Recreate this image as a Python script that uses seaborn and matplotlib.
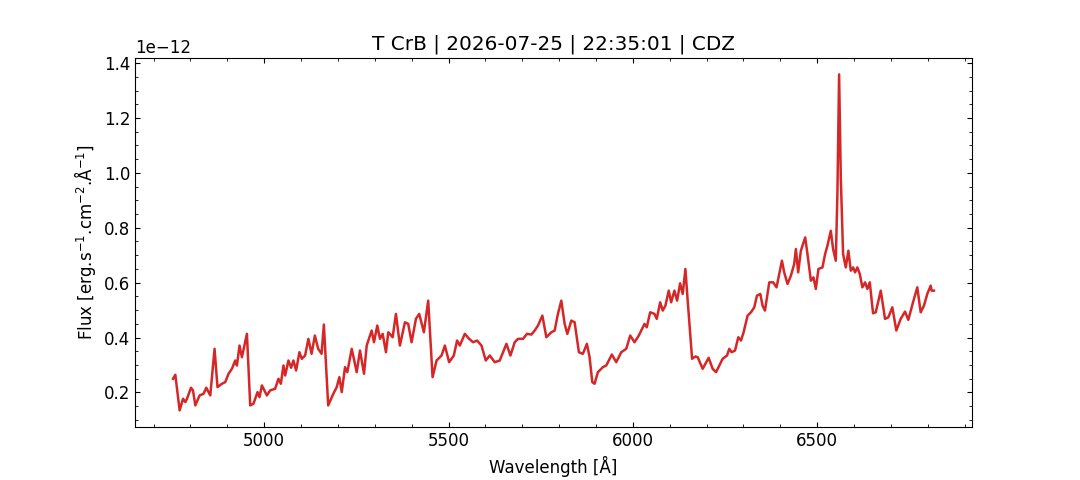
import matplotlib
matplotlib.use("Agg")
import matplotlib.pyplot as plt
import seaborn as sns
import numpy as np
from matplotlib.ticker import AutoMinorLocator

wavelength = [
    4752.8, 4759.0, 4770.7, 4779.9, 4786.1, 4790.7, 4801.5, 4806.9, 4813.2, 4824.8,
    4835.6, 4842.9, 4853.8, 4865.4, 4873.4, 4885.4, 4894.4, 4903.3, 4912.5, 4921.5,
    4926.1, 4933.1, 4939.6, 4953.2, 4962.1, 4971.0, 4981.9, 4987.3, 4993.8, 5007.3,
    5016.2, 5029.8, 5038.7, 5045.2, 5052.3, 5056.9, 5065.8, 5073.1, 5079.3, 5086.6,
    5095.6, 5102.1, 5111.0, 5119.9, 5128.6, 5137.5, 5146.5, 5155.7, 5161.9, 5173.6,
    5187.6, 5196.8, 5203.9, 5210.4, 5219.3, 5225.5, 5237.5, 5251.0, 5259.9, 5270.8,
    5278.1, 5291.6, 5297.8, 5306.8, 5314.1, 5321.4, 5330.3, 5336.6, 5348.5, 5357.4,
    5368.2, 5381.8, 5390.7, 5399.9, 5411.6, 5420.5, 5433.2, 5444.9, 5456.8, 5467.6,
    5481.1, 5490.1, 5501.7, 5514.4, 5523.3, 5530.7, 5544.2, 5555.9, 5566.7, 5577.5,
    5589.4, 5601.1, 5611.9, 5625.5, 5639.0, 5657.1, 5668.0, 5679.6, 5688.6, 5702.1,
    5712.9, 5724.8, 5733.8, 5742.7, 5754.6, 5765.4, 5779.0, 5787.9, 5796.8, 5806.0,
    5815.0, 5822.3, 5833.1, 5842.1, 5853.7, 5864.5, 5875.4, 5882.7, 5890.0, 5896.2,
    5905.2, 5918.7, 5927.9, 5943.1, 5955.0, 5968.5, 5982.1, 5992.9, 6004.5, 6016.2,
    6031.6, 6037.8, 6047.0, 6058.7, 6064.9, 6074.1, 6081.1, 6088.4, 6097.4, 6103.9,
    6112.8, 6120.1, 6128.2, 6135.3, 6142.6, 6148.8, 6160.7, 6169.7, 6175.9, 6189.4,
    6205.7, 6216.5, 6225.7, 6234.7, 6243.6, 6255.5, 6261.7, 6268.0, 6277.2, 6286.1,
    6293.4, 6300.5, 6311.3, 6320.5, 6329.4, 6336.7, 6345.7, 6351.9, 6358.4, 6370.1,
    6380.9, 6389.8, 6397.1, 6404.4, 6410.6, 6419.6, 6428.8, 6437.7, 6442.3, 6448.5,
    6455.8, 6467.5, 6473.7, 6482.9, 6489.9, 6496.4, 6503.5, 6514.3, 6521.6, 6527.8,
    6537.0, 6543.2, 6550.5, 6554.9, 6559.5, 6564.1, 6570.3, 6577.6, 6584.7, 6591.2,
    6597.4, 6602.8, 6609.1, 6615.6, 6622.6, 6630.0, 6636.2, 6642.7, 6651.6, 6658.9,
    6672.5, 6684.1, 6693.1, 6703.9, 6714.7, 6726.6, 6738.3, 6747.2, 6760.0, 6771.6,
    6780.8, 6789.7, 6798.7, 6807.9, 6810.6, 6816.8,
]

flux_e12 = [
    0.2498, 0.2644, 0.1345, 0.1771, 0.1647, 0.1771, 0.2171, 0.2073, 0.1527, 0.1891,
    0.1953, 0.2171, 0.1891, 0.3589, 0.2193, 0.2316, 0.2375, 0.2680, 0.2862, 0.3164,
    0.2982, 0.3709, 0.3284, 0.4135, 0.1527, 0.1589, 0.2011, 0.1829, 0.2255, 0.1891,
    0.2073, 0.2135, 0.2498, 0.2316, 0.2982, 0.2618, 0.3164, 0.2898, 0.3164, 0.2800,
    0.3465, 0.3225, 0.3345, 0.3953, 0.3407, 0.4073, 0.3589, 0.3407, 0.4473, 0.1527,
    0.1953, 0.2193, 0.2556, 0.2011, 0.2920, 0.2738, 0.3589, 0.2738, 0.3527, 0.2680,
    0.3709, 0.4255, 0.3829, 0.4436, 0.3953, 0.4135, 0.3465, 0.4193, 0.4011, 0.4862,
    0.3709, 0.4556, 0.4498, 0.3829, 0.4680, 0.4862, 0.4193, 0.5345, 0.2556, 0.3164,
    0.3345, 0.3709, 0.3102, 0.3345, 0.3891, 0.3709, 0.4135, 0.3953, 0.3829, 0.3891,
    0.3709, 0.3164, 0.3345, 0.3102, 0.3164, 0.3771, 0.3345, 0.3829, 0.3953, 0.3953,
    0.4135, 0.4109, 0.4255, 0.4436, 0.4800, 0.4011, 0.4193, 0.4255, 0.4862, 0.5345,
    0.4498, 0.4135, 0.4618, 0.4556, 0.3465, 0.3407, 0.3771, 0.3284, 0.2375, 0.2316,
    0.2738, 0.2920, 0.2982, 0.3382, 0.3102, 0.3465, 0.3589, 0.4073, 0.3829, 0.4073,
    0.4498, 0.4375, 0.4920, 0.4862, 0.4680, 0.5284, 0.4982, 0.5164, 0.5709, 0.5284,
    0.5709, 0.5345, 0.5975, 0.5589, 0.6498, 0.5345, 0.3225, 0.3309, 0.3284, 0.2862,
    0.3262, 0.2862, 0.2738, 0.2982, 0.3225, 0.3345, 0.3589, 0.3465, 0.3527, 0.4011,
    0.3891, 0.4193, 0.4800, 0.4920, 0.5102, 0.5527, 0.5589, 0.5164, 0.4982, 0.6011,
    0.6011, 0.5829, 0.6316, 0.6800, 0.6375, 0.5953, 0.6255, 0.6680, 0.7225, 0.6375,
    0.7164, 0.7647, 0.7044, 0.6073, 0.6193, 0.5771, 0.6498, 0.6556, 0.7044, 0.7345,
    0.7891, 0.7225, 0.6800, 0.9236, 1.3589, 0.9829, 0.7044, 0.6556, 0.7164, 0.6436,
    0.6556, 0.6375, 0.6556, 0.6316, 0.5829, 0.6011, 0.5771, 0.6011, 0.4884, 0.4920,
    0.5709, 0.4680, 0.4738, 0.5102, 0.4255, 0.4680, 0.4945, 0.4644, 0.5284, 0.5829,
    0.4920, 0.5164, 0.5589, 0.5891, 0.5709, 0.5709,
]

title = "T CrB | 2026-07-25 | 22:35:01 | CDZ"
xlabel = "Wavelength [Å]"
ylabel = "Flux [erg.s$^{-1}$.cm$^{-2}$.Å$^{-1}$]"

flux = np.array(flux_e12) * 1e-12

plt.rcParams["font.size"] = 12

fig, ax = plt.subplots(figsize=(10.8, 4.8), dpi=100)
sns.lineplot(x=wavelength, y=flux, ax=ax, color="#d62728", linewidth=1.8)

ax.set_title(title)
ax.set_xlabel(xlabel)
ax.set_ylabel(ylabel)
ax.xaxis.set_minor_locator(AutoMinorLocator())
ax.yaxis.set_minor_locator(AutoMinorLocator())
ax.tick_params(which="both", direction="in", top=True, right=True)

fig.savefig("out.png", dpi=100)
